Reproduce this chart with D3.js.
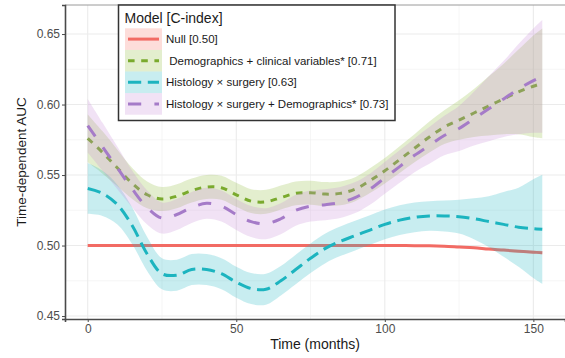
<!DOCTYPE html>
<html>
<head>
<meta charset="utf-8">
<script src="https://cdn.jsdelivr.net/npm/d3@7"></script>
<style>
  html, body { margin: 0; padding: 0; background: #fff; }
  svg { display: block; font-family: "Liberation Sans", Arial, sans-serif; }
</style>
</head>
<body>
<div id="chart"></div>
<script>
// time points (months)
const times = [0, 5, 10, 15, 20, 25, 30, 35, 40, 45, 50, 55, 60, 65, 70, 75, 80, 85, 90, 95, 100,
  105, 110, 115, 120, 125, 130, 135, 140, 145, 150, 153];

// smoothed time-dependent AUC per model
const nullAuc = [0.5, 0.5, 0.5, 0.5, 0.5, 0.5, 0.5, 0.5, 0.5, 0.5, 0.5, 0.5, 0.5, 0.5, 0.5, 0.5, 0.5,
  0.5, 0.5, 0.5, 0.5, 0.5, 0.4999, 0.4998, 0.4995, 0.499, 0.4985, 0.4975, 0.4968, 0.496, 0.4953, 0.4949];
const demoAuc = [0.576, 0.566, 0.555, 0.544, 0.536, 0.533, 0.535, 0.539, 0.5415, 0.541, 0.536, 0.5315,
  0.531, 0.534, 0.537, 0.5375, 0.5365, 0.537, 0.540, 0.546, 0.553, 0.561, 0.569, 0.577, 0.584, 0.589,
  0.594, 0.599, 0.604, 0.609, 0.613, 0.615];
const histAuc = [0.5405, 0.537, 0.529, 0.514, 0.494, 0.480, 0.479, 0.483, 0.483, 0.480, 0.474, 0.4695,
  0.469, 0.475, 0.483, 0.491, 0.498, 0.503, 0.507, 0.511, 0.515, 0.518, 0.520, 0.521, 0.521, 0.5205,
  0.519, 0.517, 0.515, 0.513, 0.512, 0.5115];
const histDemoAuc = [0.585, 0.570, 0.555, 0.540, 0.527, 0.5195, 0.522, 0.527, 0.530, 0.528, 0.522, 0.517,
  0.5155, 0.519, 0.525, 0.528, 0.529, 0.5305, 0.534, 0.540, 0.548, 0.556, 0.564, 0.571, 0.578, 0.583,
  0.590, 0.597, 0.604, 0.611, 0.617, 0.620];

// half-width of the confidence band
const nullHw = [0.0006, 0.0006, 0.0006, 0.0006, 0.0006, 0.0006, 0.0006, 0.0006, 0.0006, 0.0006, 0.0006,
  0.0006, 0.0006, 0.0006, 0.0006, 0.0006, 0.0006, 0.0006, 0.0006, 0.0006, 0.0006, 0.0006, 0.0006, 0.0007,
  0.0007, 0.0008, 0.0008, 0.0009, 0.001, 0.001, 0.0011, 0.0012];
const demoHw = [0.017, 0.015, 0.013, 0.011, 0.0095, 0.0085, 0.0085, 0.0085, 0.0085, 0.0085, 0.0085, 0.0085,
  0.0085, 0.0085, 0.0085, 0.0085, 0.0085, 0.0085, 0.0085, 0.0088, 0.009, 0.0095, 0.010, 0.011, 0.012, 0.014,
  0.017, 0.021, 0.025, 0.030, 0.036, 0.039];
const histHw = [0.018, 0.016, 0.014, 0.013, 0.012, 0.011, 0.011, 0.011, 0.011, 0.011, 0.011, 0.011, 0.011,
  0.0105, 0.0105, 0.0105, 0.0105, 0.0105, 0.0105, 0.0105, 0.0105, 0.0105, 0.0105, 0.0105, 0.011, 0.012,
  0.0145, 0.018, 0.023, 0.028, 0.035, 0.0387];
const histDemoHw = [0.019, 0.017, 0.015, 0.013, 0.012, 0.011, 0.011, 0.011, 0.011, 0.011, 0.011, 0.011,
  0.011, 0.011, 0.011, 0.011, 0.011, 0.011, 0.011, 0.011, 0.0112, 0.0115, 0.012, 0.013, 0.014, 0.016,
  0.019, 0.023, 0.027, 0.032, 0.037, 0.040];

const modelLabels = ['Null [0.50]', ' Demographics + clinical variables* [0.71]', 'Histology \u00d7 surgery [0.63]',
  'Histology \u00d7 surgery + Demographics* [0.73]'];
const xTicks = [0, 50, 100, 150];
const xMinor = [25, 75, 125];
const yTicks = [0.45, 0.50, 0.55, 0.60, 0.65];
const yMinor = [0.475, 0.525, 0.575, 0.625];

const models = [
  { label: modelLabels[0], auc: nullAuc, hw: nullHw, color: '#f26b64', band: '#f8766d', dash: null },
  { label: modelLabels[1], auc: demoAuc, hw: demoHw, color: '#7aaa2e', band: '#8fba3a', dash: '6.6,6.6' },
  { label: modelLabels[2], auc: histAuc, hw: histHw, color: '#1cb4bf', band: '#22b8c4', dash: '13.2,6.6' },
  { label: modelLabels[3], auc: histDemoAuc, hw: histDemoHw, color: '#a57bc8', band: '#c78ad8', dash: '13.2,13.2' }
];

const width = 565, height = 358;
const margin = { top: 5, right: 0, bottom: 39, left: 65 };

const svg = d3.select('#chart').append('svg').attr('width', width).attr('height', height);

const x = d3.scaleLinear().domain([-7.65, 160.65]).range([margin.left, width - margin.right]);
const y = d3.scaleLinear().domain([0.4479, 0.6706]).range([height - margin.bottom, margin.top]);

// grid
const grid = svg.append('g');
grid.selectAll('line.xminor').data(xMinor).join('line')
  .attr('x1', d => x(d)).attr('x2', d => x(d)).attr('y1', y.range()[0]).attr('y2', y.range()[1])
  .attr('stroke', '#f0f0f0').attr('stroke-width', 0.6);
grid.selectAll('line.yminor').data(yMinor).join('line')
  .attr('y1', d => y(d)).attr('y2', d => y(d)).attr('x1', x.range()[0]).attr('x2', x.range()[1])
  .attr('stroke', '#f0f0f0').attr('stroke-width', 0.6);
grid.selectAll('line.xmajor').data(xTicks).join('line')
  .attr('x1', d => x(d)).attr('x2', d => x(d)).attr('y1', y.range()[0]).attr('y2', y.range()[1])
  .attr('stroke', '#ebebeb').attr('stroke-width', 1.1);
grid.selectAll('line.ymajor').data(yTicks).join('line')
  .attr('y1', d => y(d)).attr('y2', d => y(d)).attr('x1', x.range()[0]).attr('x2', x.range()[1])
  .attr('stroke', '#ebebeb').attr('stroke-width', 1.1);

// top border
svg.append('line').attr('x1', x.range()[0]).attr('x2', x.range()[1])
  .attr('y1', margin.top).attr('y2', margin.top).attr('stroke', '#9a9a9a').attr('stroke-width', 1);

// ribbons and lines, drawn per model so later bands sit over earlier lines
const area = d3.area()
  .x((d, i) => x(times[i]))
  .y0(d => y(d[0] - d[1]))
  .y1(d => y(d[0] + d[1]))
  .curve(d3.curveCatmullRom);
const line = d3.line()
  .x((d, i) => x(times[i]))
  .y(d => y(d))
  .curve(d3.curveCatmullRom);

const plot = svg.append('g');
models.forEach(m => {
  plot.append('path')
    .attr('d', area(m.auc.map((v, i) => [v, m.hw[i]])))
    .attr('fill', m.band).attr('fill-opacity', 0.25);
  plot.append('path')
    .attr('d', line(m.auc))
    .attr('fill', 'none').attr('stroke', m.color).attr('stroke-width', 3)
    .attr('stroke-dasharray', m.dash);
});

// axes
const xAxis = svg.append('g')
  .attr('transform', `translate(0,${y.range()[0]})`)
  .call(d3.axisBottom(x).tickValues(xTicks).tickSize(3).tickPadding(2));
const yAxis = svg.append('g')
  .attr('transform', `translate(${margin.left},0)`)
  .call(d3.axisLeft(y).tickValues(yTicks).tickFormat(d3.format('.2f')).tickSize(3).tickPadding(2));
[xAxis, yAxis].forEach(a => {
  a.select('.domain').attr('stroke', '#4a4a4a').attr('stroke-width', 1.6);
  a.selectAll('.tick line').attr('stroke', '#4a4a4a').attr('stroke-width', 1);
  a.selectAll('.tick text').attr('fill', '#4d4d4d').style('font-size', '12px')
    .style('font-family', '"Liberation Sans", Arial, sans-serif');
});

svg.append('text')
  .attr('x', (x.range()[0] + x.range()[1]) / 2).attr('y', 349)
  .attr('text-anchor', 'middle').style('font-size', '14px').attr('fill', '#1a1a1a')
  .text('Time (months)');
svg.append('text')
  .attr('transform', `translate(26,${(y.range()[0] + y.range()[1]) / 2}) rotate(-90)`)
  .attr('text-anchor', 'middle').style('font-size', '13.5px').attr('fill', '#1a1a1a')
  .text('Time-dependent AUC');

// legend
const lg = svg.append('g');
lg.append('rect').attr('x', 118.5).attr('y', 5).attr('width', 276.5).attr('height', 115.5)
  .attr('fill', '#fff').attr('stroke', '#333').attr('stroke-width', 1.5);
lg.append('text').attr('x', 124.5).attr('y', 23).style('font-size', '14px').attr('fill', '#1a1a1a')
  .text('Model [C-index]');
const keyH = 21.6, keyY = 28.3, keyX = 125, keyW = 37;
const keys = lg.selectAll('g.key').data(models).join('g')
  .attr('transform', (d, i) => `translate(0,${keyY + i * keyH})`);
keys.append('rect').attr('x', keyX).attr('y', 0).attr('width', keyW).attr('height', keyH)
  .attr('fill', d => d.band).attr('fill-opacity', 0.25);
keys.append('line').attr('x1', keyX + 3).attr('x2', keyX + keyW - 3)
  .attr('y1', keyH / 2).attr('y2', keyH / 2)
  .attr('stroke', d => d.color).attr('stroke-width', 3)
  .attr('stroke-dasharray', d => d.dash);
keys.append('text').attr('x', keyX + keyW + 4).attr('y', keyH / 2 + 4)
  .style('font-size', '11.5px').attr('fill', '#1a1a1a').attr('xml:space', 'preserve')
  .style('white-space', 'pre')
  .text(d => d.label);
</script>
</body>
</html>
